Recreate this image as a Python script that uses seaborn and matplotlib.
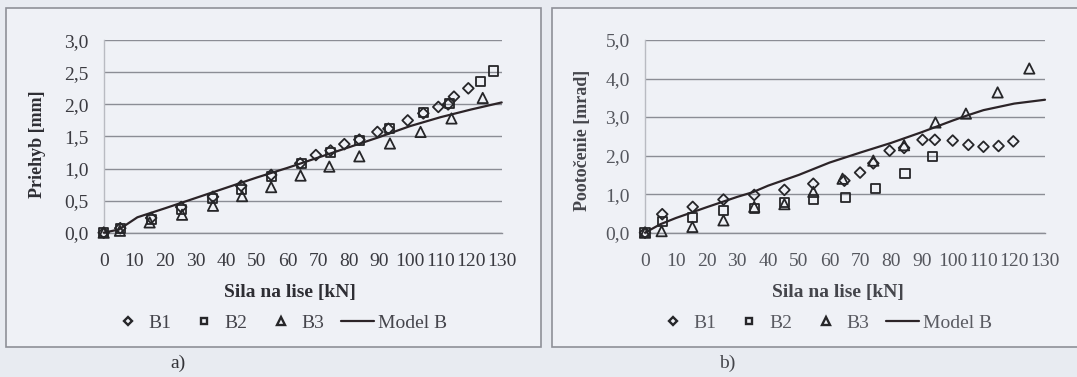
import matplotlib
matplotlib.use("Agg")
import matplotlib.pyplot as plt
import seaborn as sns
import pandas as pd
from matplotlib.lines import Line2D
from matplotlib.patches import Rectangle
from matplotlib.ticker import FixedLocator, FuncFormatter

# ---------------- data: a) deflection ----------------
a_b1_x = [0, 5.4, 15.5, 25.3, 35.7, 44.9, 54.7, 64.2, 69.3, 74.1, 78.6, 83.5, 89.4, 93.0,
          99.3, 104.4, 109.3, 112.5, 114.4, 119.1]
a_b1_y = [0, 0.07, 0.23, 0.40, 0.56, 0.73, 0.90, 1.08, 1.21, 1.28, 1.38, 1.45, 1.57, 1.62,
          1.75, 1.86, 1.96, 2.00, 2.12, 2.25]
a_b2_x = [0, 5.6, 15.5, 25.4, 35.7, 45.0, 54.8, 64.6, 74.2, 83.7, 93.4, 104.6, 112.8, 123.1, 127.2]
a_b2_y = [0, 0.06, 0.20, 0.36, 0.53, 0.68, 0.88, 1.08, 1.25, 1.44, 1.62, 1.88, 2.01, 2.35, 2.52]
a_b3_x = [0, 5.3, 15.0, 25.6, 35.7, 45.2, 54.7, 64.3, 73.7, 83.5, 93.5, 103.5, 113.6, 123.8]
a_b3_y = [0, 0.03, 0.16, 0.28, 0.42, 0.57, 0.71, 0.89, 1.03, 1.19, 1.39, 1.57, 1.78, 2.10]
a_model_x = [0, 5, 11, 20, 30, 40, 50, 60, 65, 70, 80, 90, 100, 110, 120, 130]
a_model_y = [0, 0.05, 0.24, 0.38, 0.54, 0.70, 0.86, 1.01, 1.09, 1.17, 1.33, 1.49, 1.66, 1.80,
             1.92, 2.03]

# ---------------- data: b) rotation ----------------
b_b1_x = [0, 5.6, 15.5, 25.5, 35.5, 45.3, 54.7, 64.8, 69.9, 74.2, 79.5, 84.2, 90.2, 94.2,
          100.0, 105.1, 110.0, 114.9, 119.7]
b_b1_y = [0, 0.48, 0.67, 0.86, 0.98, 1.11, 1.27, 1.35, 1.56, 1.80, 2.13, 2.20, 2.41, 2.41,
          2.39, 2.28, 2.23, 2.25, 2.37]
b_b2_x = [0, 5.6, 15.5, 25.5, 35.5, 45.3, 54.7, 65.3, 75.0, 84.5, 93.5]
b_b2_y = [0, 0.30, 0.40, 0.58, 0.62, 0.78, 0.85, 0.92, 1.14, 1.54, 1.99]
b_b3_x = [0, 5.4, 15.4, 25.5, 35.5, 45.3, 54.7, 64.2, 74.2, 84.2, 94.4, 104.3, 114.6, 124.9]
b_b3_y = [0, 0.04, 0.15, 0.32, 0.67, 0.74, 1.06, 1.40, 1.87, 2.27, 2.86, 3.09, 3.64, 4.26]
b_model_x = [0, 5, 10, 20, 30, 35, 40, 50, 60, 70, 80, 90, 100, 105, 110, 120, 130]
b_model_y = [0, 0.22, 0.38, 0.66, 0.93, 1.05, 1.22, 1.50, 1.82, 2.08, 2.33, 2.61, 2.91, 3.05,
             3.18, 3.35, 3.45]

x_ticks = list(range(0, 131, 10))
a_y_ticks = [0.0, 0.5, 1.0, 1.5, 2.0, 2.5, 3.0]
b_y_ticks = [0.0, 1.0, 2.0, 3.0, 4.0, 5.0]

series_names = ["B1", "B2", "B3"]
model_name = "Model B"
x_title = "Sila na lise [kN]"
a_y_title = "Priehyb [mm]"
b_y_title = "Pootočenie [mrad]"

# ---------------- style ----------------
sns.set_theme(style="white")
plt.rcParams["font.family"] = ["Liberation Serif", "DejaVu Serif"]

W, H = 1077, 377
BG = "#e8ebf1"
PANEL = "#eff1f6"
GRID = "#8b8d95"
INK = "#262629"
LINE = "#2c2428"
markers = {"B1": "D", "B2": "s", "B3": "^"}
msize = {"B1": 30, "B2": 42, "B3": 55}

fig = plt.figure(figsize=(W / 100, H / 100), dpi=100, facecolor=BG)


def fx(px):
    return px / W


def fy(py):
    return 1 - py / H


# chart-area frames, kept underneath the plot axes
for x0, x1 in [(6, 541), (552, 1085)]:
    fig.patches.append(Rectangle((fx(x0), fy(347)), fx(x1 - x0), (347 - 8) / H,
                                 transform=fig.transFigure, fc=PANEL, ec="#8e9098",
                                 lw=1.2, zorder=-5))


def draw_panel(ax, data, model, yticks, txt_color):
    frames = []
    for name, (xs, ys) in zip(series_names, data):
        frames.append(pd.DataFrame({"x": xs, "y": ys, "s": name}))
    df = pd.concat(frames, ignore_index=True)
    dm = pd.DataFrame({"x": model[0], "y": model[1]})

    sns.lineplot(data=dm, x="x", y="y", ax=ax, color=LINE, lw=1.6, zorder=3,
                 legend=False, clip_on=False)
    for name in series_names:
        sub = df[df["s"] == name]
        sns.scatterplot(data=sub, x="x", y="y", ax=ax, marker=markers[name],
                        s=msize[name], facecolor="none", edgecolor=INK, linewidth=1.3,
                        zorder=4, legend=False, clip_on=False)

    ax.set_facecolor("none")
    ax.set_xlim(0, 130)
    ax.set_ylim(yticks[0], yticks[-1])
    ax.xaxis.set_major_locator(FixedLocator(x_ticks))
    ax.yaxis.set_major_locator(FixedLocator(yticks))
    ax.yaxis.set_major_formatter(FuncFormatter(lambda v, p: f"{v:.1f}".replace(".", ",")))
    ax.grid(axis="y", color=GRID, lw=1.0)
    ax.grid(axis="x", visible=False)
    ax.set_axisbelow(True)
    for side in ["top", "right"]:
        ax.spines[side].set_visible(False)
    ax.spines["left"].set_color("#b9bbc2")
    ax.spines["left"].set_linewidth(1.0)
    ax.spines["bottom"].set_color(GRID)
    ax.spines["bottom"].set_linewidth(1.0)
    ax.tick_params(axis="x", direction="out", length=3.5, width=1.0, color=GRID,
                   pad=11, labelsize=14, labelcolor=txt_color)
    ax.tick_params(axis="y", length=0, pad=11, labelsize=14, labelcolor=txt_color)
    ax.set_xlabel("")
    ax.set_ylabel("")


ax_a = fig.add_axes([fx(103.7), fy(232.7), fx(398), 192.5 / H])
draw_panel(ax_a,
           [(a_b1_x, a_b1_y), (a_b2_x, a_b2_y), (a_b3_x, a_b3_y)],
           (a_model_x, a_model_y), a_y_ticks, "#3a3a40")

ax_b = fig.add_axes([fx(645), fy(232.7), fx(400), 192.7 / H])
draw_panel(ax_b,
           [(b_b1_x, b_b1_y), (b_b2_x, b_b2_y), (b_b3_x, b_b3_y)],
           (b_model_x, b_model_y), b_y_ticks, "#55575e")

# axis titles
fig.text(fx(290), fy(293), x_title, ha="center", va="center", fontsize=14,
         fontweight="bold", color="#2e2e34")
fig.text(fx(838), fy(292), x_title, ha="center", va="center", fontsize=14,
         fontweight="bold", color="#45464c")
fig.text(fx(38), fy(144), a_y_title, ha="center", va="center", rotation=90, fontsize=13,
         fontweight="bold", color="#2e2e34")
fig.text(fx(583), fy(140), b_y_title, ha="center", va="center", rotation=90, fontsize=13,
         fontweight="bold", color="#45464c")

# legends
handles = [Line2D([], [], ls="none", marker=markers[n], ms=ms, mfc="none", mec=INK, mew=1.7)
           for n, ms in zip(series_names, [4.5, 5, 5.5])]
handles.append(Line2D([], [], color=LINE, lw=1.6))
labels = series_names + [model_name]
for cx, col in [(279, "#45454c"), (824, "#5a5b62")]:
    leg = fig.legend(handles, labels, loc="center", bbox_to_anchor=(fx(cx), fy(323)),
                     ncol=4, frameon=False, fontsize=14, handlelength=1.7,
                     handletextpad=0.2, columnspacing=0.85, borderpad=0)
    for t in leg.get_texts():
        t.set_color(col)

# panel captions
fig.text(fx(178), fy(363), "a)", ha="center", va="center", fontsize=14, color="#333338")
fig.text(fx(727), fy(363), "b)", ha="center", va="center", fontsize=14, color="#44454b")

fig.savefig("out.png", dpi=100, facecolor=BG)
